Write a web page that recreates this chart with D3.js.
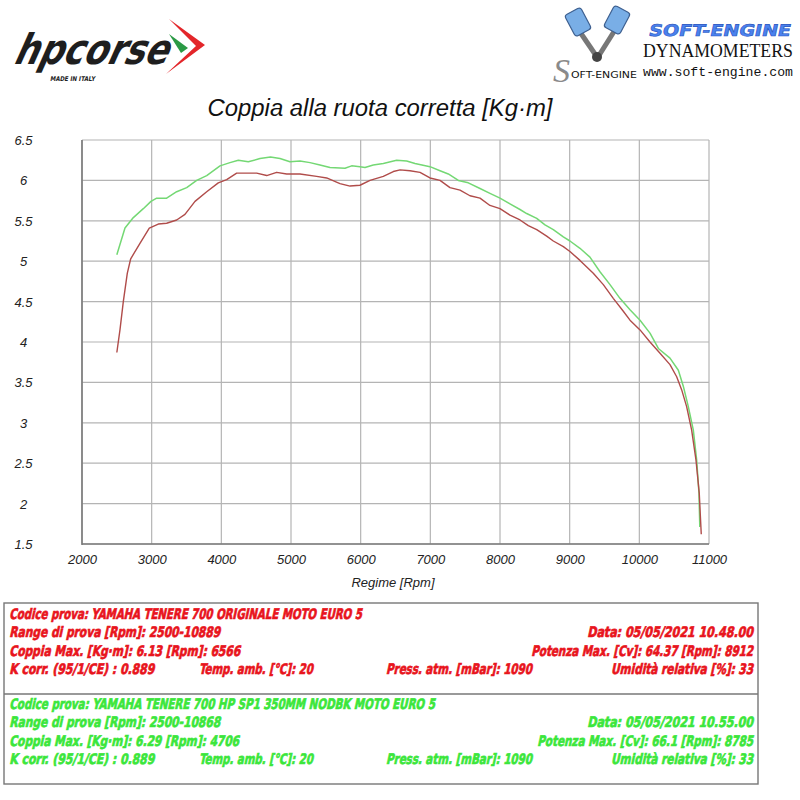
<!DOCTYPE html>
<html>
<head>
<meta charset="utf-8">
<script src="https://cdn.jsdelivr.net/npm/d3@7"></script>
<style>
html,body{margin:0;padding:0;background:#fff;}
svg{display:block;}
</style>
</head>
<body>
<svg id="chart" width="800" height="800"></svg>
<script>
// ---------------- DATA ----------------
const xTicks = [2000, 3000, 4000, 5000, 6000, 7000, 8000, 9000, 10000, 11000];
const yTicks = [1.5, 2, 2.5, 3, 3.5, 4, 4.5, 5, 5.5, 6, 6.5];
const yTickLabels = ["1.5", "2", "2.5", "3", "3.5", "4", "4.5", "5", "5.5", "6", "6.5"];

const rpmOriginal = [2500,2545,2593,2650,2699,2832,2966,3095,3215,3359,3478,3622,3790,3956,4077,4220,4411,4507,4651,4794,4938,5129,5368,5512,5703,5847,5990,6134,6325,6469,6566,6708,6852,6995,7139,7282,7426,7569,7713,7856,8000,8143,8287,8406,8527,8670,8765,8909,9004,9148,9339,9483,9626,9770,9866,10010,10153,10297,10440,10536,10607,10679,10751,10813,10860,10889];
const torqueOriginal = [3.87,4.15,4.50,4.85,5.03,5.22,5.41,5.46,5.47,5.51,5.58,5.74,5.86,5.97,6.01,6.09,6.09,6.09,6.06,6.10,6.08,6.08,6.05,6.03,5.96,5.93,5.94,6.00,6.05,6.11,6.13,6.12,6.10,6.03,6.00,5.91,5.88,5.81,5.78,5.69,5.65,5.57,5.51,5.44,5.39,5.31,5.25,5.18,5.12,5.01,4.85,4.71,4.54,4.38,4.27,4.15,4.00,3.86,3.72,3.57,3.41,3.20,2.91,2.54,2.13,1.62];

const rpmHp = [2500,2617,2737,2880,2990,3072,3215,3359,3503,3646,3790,3981,4124,4244,4387,4555,4706,4842,4985,5129,5273,5416,5560,5775,5871,5990,6062,6181,6325,6516,6660,6780,6995,7139,7258,7402,7545,7713,7856,8000,8143,8287,8383,8527,8646,8765,8909,9004,9148,9291,9435,9579,9722,9866,10010,10153,10273,10440,10560,10632,10703,10775,10823,10856,10868];
const torqueHp = [5.08,5.41,5.54,5.65,5.74,5.78,5.78,5.86,5.91,6.00,6.06,6.18,6.22,6.25,6.23,6.27,6.29,6.27,6.23,6.24,6.22,6.19,6.16,6.15,6.18,6.17,6.16,6.19,6.21,6.25,6.24,6.21,6.17,6.12,6.08,6.00,5.97,5.90,5.84,5.78,5.71,5.64,5.59,5.53,5.45,5.39,5.30,5.25,5.16,5.05,4.87,4.71,4.54,4.40,4.27,4.11,3.92,3.80,3.65,3.45,3.20,2.91,2.54,2.13,1.71];

const chartTitle = "Coppia alla ruota corretta [Kg\u00b7m]";
const xAxisTitle = "Regime [Rpm]";

const redInfo = {
  left: ["Codice prova: YAMAHA TENERE 700 ORIGINALE  MOTO EURO 5",
         "Range di prova [Rpm]: 2500-10889",
         "Coppia Max. [Kg\u00b7m]: 6.13  [Rpm]: 6566",
         "K corr. (95/1/CE) : 0.889"],
  temp: "Temp. amb. [\u00b0C]: 20",
  press: "Press. atm. [mBar]: 1090",
  right: ["Data: 05/05/2021  10.48.00",
          "Potenza Max. [Cv]: 64.37  [Rpm]: 8912",
          "Umidit\u00e0 relativa [%]: 33"]
};
const greenInfo = {
  left: ["Codice prova: YAMAHA TENERE 700 HP SP1 350MM NODBK  MOTO EURO 5",
         "Range di prova [Rpm]: 2500-10868",
         "Coppia Max. [Kg\u00b7m]: 6.29  [Rpm]: 4706",
         "K corr. (95/1/CE) : 0.889"],
  temp: "Temp. amb. [\u00b0C]: 20",
  press: "Press. atm. [mBar]: 1090",
  right: ["Data: 05/05/2021  10.55.00",
          "Potenza Max. [Cv]: 66.1  [Rpm]: 8785",
          "Umidit\u00e0 relativa [%]: 33"]
};

// ---------------- DRAW ----------------
const svg = d3.select("#chart");
const plot = {left: 82, right: 709, top: 140, bottom: 544};
const x = d3.scaleLinear().domain([2000, 11000]).range([plot.left, plot.right]);
const y = d3.scaleLinear().domain([1.5, 6.5]).range([plot.bottom, plot.top]);

// helper: text fitted to a target width with a horizontal scale transform
function fitText(g, txt, xx, yy, width, anchor, skew, styles, attrs) {
  const t = g.append("text").attr("x", 0).attr("y", 0).attr("text-anchor", anchor).text(txt);
  Object.entries(styles).forEach(([k, v]) => t.style(k, v));
  Object.entries(attrs || {}).forEach(([k, v]) => t.attr(k, v));
  const w = t.node().getComputedTextLength();
  const sx = w > 0 ? width / w : 1;
  t.attr("transform", `translate(${xx},${yy}) skewX(${skew}) scale(${sx},1)`);
  return t;
}

// grid
const grid = svg.append("g");
grid.selectAll("line.v").data(xTicks).join("line")
  .attr("x1", d => x(d)).attr("x2", d => x(d))
  .attr("y1", plot.top).attr("y2", plot.bottom)
  .attr("stroke", "#b4b4b4").attr("stroke-width", 1.2);
grid.selectAll("line.h").data(yTicks).join("line")
  .attr("x1", plot.left).attr("x2", plot.right)
  .attr("y1", d => y(d)).attr("y2", d => y(d))
  .attr("stroke", "#b4b4b4").attr("stroke-width", 1.2);

// axis lines
svg.append("line").attr("x1", plot.left).attr("x2", plot.left).attr("y1", plot.top).attr("y2", plot.bottom + 1)
  .attr("stroke", "#7a7a7a").attr("stroke-width", 1.6);
svg.append("line").attr("x1", plot.left).attr("x2", plot.right).attr("y1", plot.bottom).attr("y2", plot.bottom)
  .attr("stroke", "#7a7a7a").attr("stroke-width", 1.6);

// tick labels via d3 axes
const xAxis = d3.axisBottom(x).tickValues(xTicks).tickSize(0).tickFormat(d3.format("d"));
const gx = svg.append("g").attr("transform", `translate(0,${plot.bottom})`).call(xAxis);
gx.select(".domain").remove();
gx.selectAll("text").attr("y", 16).attr("dy", "0.32em")
  .style("font-family", "'Liberation Sans', Arial, sans-serif").style("font-style", "italic")
  .style("font-size", "13px").attr("fill", "#222");

const yAxis = d3.axisLeft(y).tickValues(yTicks).tickSize(0).tickFormat((d, i) => yTickLabels[i]);
const gy = svg.append("g").call(yAxis);
gy.select(".domain").remove();
gy.selectAll("text").attr("x", 23.5).attr("text-anchor", "middle").attr("dy", "0.35em")
  .style("font-family", "'Liberation Sans', Arial, sans-serif").style("font-style", "italic")
  .style("font-size", "13px").attr("fill", "#222");

// lines
const line = d3.line().x(d => x(d[0])).y(d => y(d[1]));
const greenData = rpmHp.map((r, i) => [r, torqueHp[i]]);
const redData = rpmOriginal.map((r, i) => [r, torqueOriginal[i]]);
svg.append("path").datum(greenData).attr("d", line).attr("fill", "none")
  .attr("stroke", "#74d874").attr("stroke-width", 1.5).attr("stroke-linejoin", "round");
svg.append("path").datum(redData).attr("d", line).attr("fill", "none")
  .attr("stroke", "#b04c4a").attr("stroke-width", 1.4).attr("stroke-linejoin", "round");

// titles
fitText(svg, chartTitle, 380, 116, 345, "middle", 0,
  {"font-family": "'Liberation Sans', Arial, sans-serif", "font-style": "italic", "font-size": "23px"},
  {fill: "#111"});
svg.append("text").attr("x", 393).attr("y", 587).attr("text-anchor", "middle")
  .style("font-family", "'Liberation Sans', Arial, sans-serif").style("font-style", "italic")
  .style("font-size", "13px").attr("fill", "#222").text(xAxisTitle);

// ---------------- INFO TABLE ----------------
svg.append("rect").attr("x", 4).attr("y", 603).attr("width", 754).attr("height", 181)
  .attr("fill", "none").attr("stroke", "#777").attr("stroke-width", 1.4);
svg.append("line").attr("x1", 4).attr("x2", 758).attr("y1", 694).attr("y2", 694)
  .attr("stroke", "#777").attr("stroke-width", 1.4);

const infoStyle = {"font-family": "'DejaVu Sans Condensed', 'Liberation Sans Narrow', sans-serif",
                   "font-weight": "bold", "font-size": "14.5px"};
function infoText(g, txt, xx, yy, width, anchor, color) {
  fitText(g, txt, xx, yy, width, anchor, -12, infoStyle,
    {fill: color, stroke: color, "stroke-width": 0.7});
}
function infoBlock(info, top, color, widths) {
  const g = svg.append("g");
  const base = [top, top + 18.3, top + 36.6, top + 54.9];
  info.left.forEach((t, i) => infoText(g, t, 9.3, base[i], widths.left[i], "start", color));
  infoText(g, info.temp, 199, base[3], 114, "start", color);
  infoText(g, info.press, 386, base[3], 146, "start", color);
  infoText(g, info.right[0], 753, base[1], widths.right[0], "end", color);
  infoText(g, info.right[1], 753, base[2], widths.right[1], "end", color);
  infoText(g, info.right[2], 753, base[3], 142, "end", color);
}
infoBlock(redInfo, 619, "#e8141c", {left: [353, 211, 231, 145], right: [166, 222]});
infoBlock(greenInfo, 709, "#3be63b", {left: [426, 211, 230, 145], right: [166, 216]});

// ---------------- LOGOS ----------------
// hpcorse
const hp = svg.append("g");
fitText(hp, "hpcorse", 12, 64, 154, "start", -24,
  {"font-family": "'DejaVu Sans', sans-serif", "font-weight": "bold", "font-size": "42px"},
  {fill: "#1e1e1e"});
hp.append("polygon").attr("points", "169,19 205,45 166,74 196,46").attr("fill", "#e3262a");
hp.append("polygon").attr("points", "169,34 188,48 181,53").attr("fill", "#2a9a45");
fitText(hp, "MADE IN ITALY", 50, 81, 45, "start", -10,
  {"font-family": "'DejaVu Sans', sans-serif", "font-weight": "bold", "font-size": "6.5px"},
  {fill: "#222"});

// soft-engine
const se = svg.append("g");
se.append("line").attr("x1", 580).attr("y1", 32).attr("x2", 597).attr("y2", 57).attr("stroke", "#777").attr("stroke-width", 5);
se.append("line").attr("x1", 615).attr("y1", 30).attr("x2", 598).attr("y2", 57).attr("stroke", "#777").attr("stroke-width", 5);
se.append("rect").attr("x", -9).attr("y", -12).attr("width", 18).attr("height", 24).attr("rx", 3)
  .attr("transform", "translate(578,22) rotate(-28)").attr("fill", "#79aee6").attr("stroke", "#3d5f8f").attr("stroke-width", 1.2);
se.append("rect").attr("x", -9).attr("y", -12).attr("width", 18).attr("height", 24).attr("rx", 3)
  .attr("transform", "translate(617,20) rotate(28)").attr("fill", "#79aee6").attr("stroke", "#3d5f8f").attr("stroke-width", 1.2);
se.append("circle").attr("cx", 597).attr("cy", 57).attr("r", 5).attr("fill", "#444");
se.append("text").attr("x", 553).attr("y", 82)
  .style("font-family", "'Liberation Serif', serif").style("font-style", "italic").style("font-size", "34px")
  .attr("fill", "#8a8a8a").text("S");
fitText(se, "OFT-ENGINE", 571, 78, 66, "start", 0,
  {"font-family": "'DejaVu Sans Condensed', sans-serif", "font-size": "9px"}, {fill: "#111"});
fitText(se, "SOFT-ENGINE", 648, 36, 142, "start", -12,
  {"font-family": "'DejaVu Sans', sans-serif", "font-weight": "bold", "font-size": "16px"},
  {fill: "#4a82ee", stroke: "#2a55c0", "stroke-width": 0.6});
fitText(se, "DYNAMOMETERS", 643, 57, 150, "start", 0,
  {"font-family": "'Liberation Serif', serif", "font-size": "19px"}, {fill: "#111"});
fitText(se, "www.soft-engine.com", 643, 76, 150, "start", 0,
  {"font-family": "'Liberation Mono', monospace", "font-size": "12.5px"}, {fill: "#111"});
</script>
</body>
</html>
